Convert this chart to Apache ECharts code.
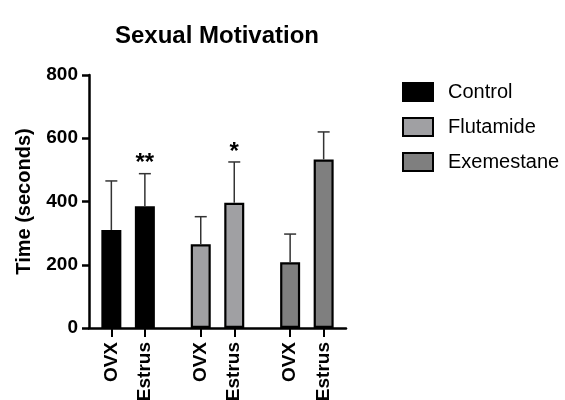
<!DOCTYPE html>
<html>
<head>
<meta charset="utf-8">
<script src="https://cdn.jsdelivr.net/npm/echarts@6/dist/echarts.min.js"></script>
<style>html,body{margin:0;padding:0;background:#fff}#c{width:565px;height:400px}</style>
</head>
<body>
<div id="c"></div>
<script>
// ---- data ----
var groups = ['Control', 'Flutamide', 'Exemestane'];
var conditions = ['OVX', 'Estrus'];
var controlMean = [310, 385];
var flutamideMean = [265, 396];
var exemestaneMean = [208, 533];
var controlSD = [155, 103];
var flutamideSD = [87, 129];
var exemestaneSD = [89, 87];
var significance = [['', '**'], ['', '*'], ['', '']];
var yTicks = [0, 200, 400, 600, 800];
var groupColors = ['#000000', '#a0a0a3', '#7f7f7f'];

var means = [controlMean, flutamideMean, exemestaneMean];
var sds = [controlSD, flutamideSD, exemestaneSD];

// x slot layout: 3 units between conditions, 8 units between groups
var GROUP_STEP = 8, COND_STEP = 3;
function xPos(g, c) { return g * GROUP_STEP + c * COND_STEP; }

var tickVals = [], tickLabel = {};
groups.forEach(function (g, gi) {
  conditions.forEach(function (c, ci) {
    var x = xPos(gi, ci);
    tickVals.push(x);
    tickLabel[x] = c;
  });
});

var FONT = 'Liberation Sans, Arial, sans-serif';

var series = groups.map(function (g, gi) {
  return {
    name: g,
    type: 'bar',
    barWidth: 20,
    barGap: '-100%',
    itemStyle: { color: groupColors[gi], borderColor: '#000', borderWidth: 2.2 },
    data: conditions.map(function (c, ci) { return [xPos(gi, ci), means[gi][ci]]; }),
    z: 2
  };
});

var errData = [];
groups.forEach(function (g, gi) {
  conditions.forEach(function (c, ci) {
    errData.push([xPos(gi, ci), means[gi][ci], means[gi][ci] + sds[gi][ci], significance[gi][ci]]);
  });
});

series.push({
  type: 'custom',
  name: 'err',
  z: 3,
  data: errData,
  encode: { x: 0, y: [1, 2] },
  renderItem: function (params, api) {
    var x = api.value(0);
    var lo = api.coord([x, api.value(1)]);
    var hi = api.coord([x, api.value(2)]);
    var cap = 6;
    var sig = errData[params.dataIndex][3];
    var children = [
      { type: 'line', shape: { x1: lo[0], y1: lo[1], x2: hi[0], y2: hi[1] }, style: { stroke: '#333', lineWidth: 1.5 } },
      { type: 'line', shape: { x1: hi[0] - cap, y1: hi[1], x2: hi[0] + cap, y2: hi[1] }, style: { stroke: '#333', lineWidth: 1.5 } }
    ];
    if (sig) {
      children.push({ type: 'text', x: hi[0], y: hi[1] + 2, style: { text: sig, font: 'bold 24px ' + FONT, fill: '#000', textAlign: 'center', textVerticalAlign: 'bottom' } });
    }
    return { type: 'group', children: children };
  }
});

var chart = echarts.init(document.getElementById('c'));
chart.setOption({
  animation: false,
  backgroundColor: '#fff',
  title: {
    text: 'Sexual Motivation', left: 212, top: 19, textAlign: 'center',
    textStyle: { fontFamily: FONT, fontSize: 24, fontWeight: 'bold', color: '#000' }
  },
  legend: {
    data: groups, orient: 'vertical', left: 397, top: 77,
    itemWidth: 30, itemHeight: 18, itemGap: 15,
    icon: 'rect',
    itemStyle: { borderColor: '#000', borderWidth: 2 },
    textStyle: { fontFamily: FONT, fontSize: 20, lineHeight: 20, color: '#000', padding: [0, 0, 0, 10] }
  },
  grid: { left: 89, right: 219, top: 75, bottom: 72, containLabel: false, outerBoundsMode: 'none' },
  xAxis: {
    type: 'value', min: -2, max: 21,
    axisLine: { show: true, onZero: false, lineStyle: { color: '#000', width: 2.5 } },
    axisTick: { show: true, customValues: tickVals, length: 9, lineStyle: { color: '#000', width: 2 } },
    axisLabel: {
      customValues: tickVals, rotate: 90, margin: 14,
      formatter: function (v) { return tickLabel[v] || ''; },
      fontFamily: FONT, fontSize: 19, fontWeight: 'bold', color: '#000'
    },
    splitLine: { show: false }
  },
  yAxis: {
    type: 'value', min: 0, max: 800, interval: 200,
    name: 'Time (seconds)', nameLocation: 'middle', nameGap: 55,
    nameTextStyle: { fontFamily: FONT, fontSize: 20, fontWeight: 'bold', color: '#000' },
    axisLine: { show: true, onZero: false, lineStyle: { color: '#000', width: 2.5 } },
    axisTick: { show: true, length: 7, lineStyle: { color: '#000', width: 2.5 } },
    axisLabel: {
      customValues: yTicks, margin: 11,
      fontFamily: FONT, fontSize: 19, fontWeight: 'bold', color: '#000'
    },
    splitLine: { show: false }
  },
  series: series
});
</script>
</body>
</html>
